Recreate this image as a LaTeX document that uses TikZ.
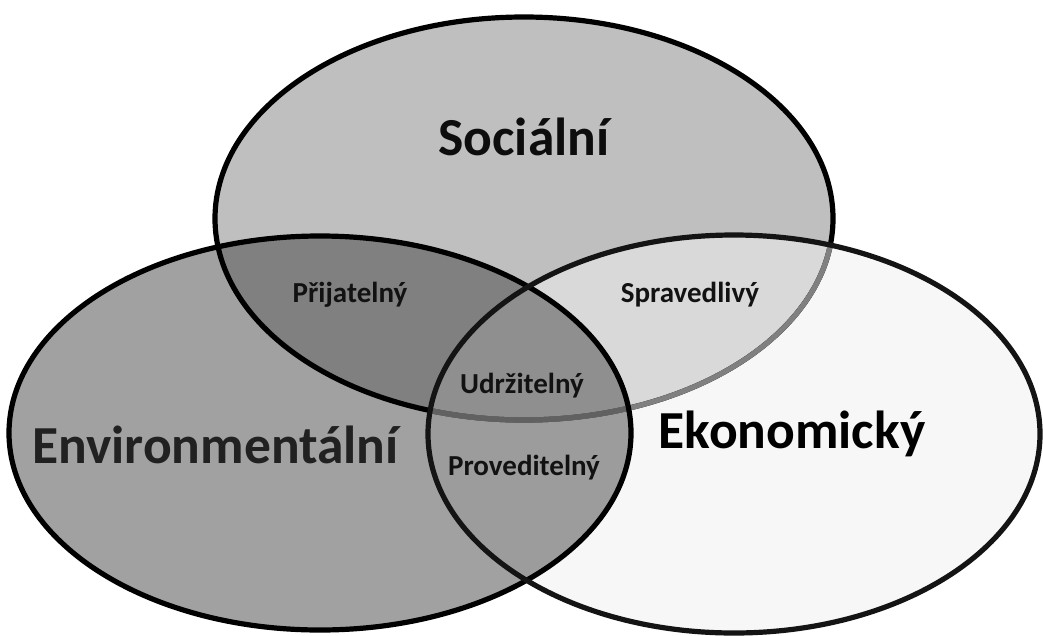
\documentclass[tikz,border=0pt]{standalone}
\usepackage{fontspec}
\setmainfont{Carlito}
\begin{document}
\begin{tikzpicture}[x=1pt,y=-1pt,
  big/.style={font=\fontsize{53.5}{60}\selectfont\bfseries, anchor=base, inner sep=0pt},
  small/.style={font=\fontsize{29}{32}\selectfont\bfseries, anchor=base, inner sep=0pt, text=black!93},
  outline/.style={line width=5.2pt}]
\def\soc{(524,218.5) ellipse [x radius=309pt, y radius=201.5pt]}
\def\env{(320,433) ellipse [x radius=311pt, y radius=197pt]}
\def\eco{(734,434) ellipse [x radius=306pt, y radius=199pt]}
\useasboundingbox (0,0) rectangle (1043,635);
\clip (0,0) rectangle (1043,635);
% base fills
\fill[black!25] \soc;
\fill[black!37] \env;
\fill[black!3] \eco;
% pairwise overlaps
\begin{scope}\clip \soc; \fill[black!50] \env; \end{scope}
\begin{scope}\clip \soc; \fill[black!15] \eco; \end{scope}
\begin{scope}\clip \env; \fill[black!39] \eco; \end{scope}
\begin{scope}\clip \soc; \clip \env; \fill[black!44] \eco; \end{scope}
% outlines
\draw[outline, black] \soc;
\begin{scope}\clip \eco; \draw[outline, black!50] \soc; \end{scope}
\begin{scope}\clip \eco; \clip \env; \draw[outline, black!62] \soc; \end{scope}
\draw[outline, black] \env;
\draw[outline, black!92] \eco;
% labels
\node[big, text=black!95] (soc) at (524,155) {Sociální};
\node[big, text=black!87] (env) at (215.5,463) {Environmentální};
\node[big, text=black] (eco) at (792,448) {Ekonomický};
\node[small] (prij) at (350,302) {Přijatelný};
\node[small] (sprav) at (690,302) {Spravedlivý};
\node[small] (udrz) at (522,393) {Udržitelný};
\node[small] (prov) at (524,475) {Proveditelný};
\end{tikzpicture}
\end{document}
